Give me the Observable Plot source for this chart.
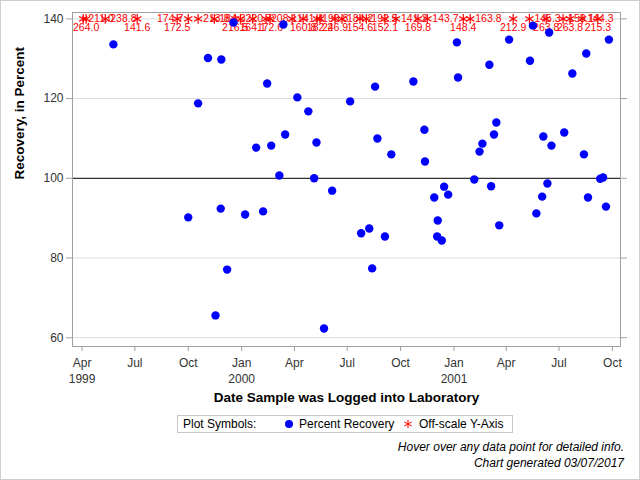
<!DOCTYPE html>
<html><head><meta charset="utf-8">
<script src="https://cdn.jsdelivr.net/npm/d3@7"></script>
<script src="https://cdn.jsdelivr.net/npm/@observablehq/plot@0.6"></script>
<style>
body{margin:0;background:#fff;font-family:"Liberation Sans",Arial,sans-serif;}
#wrap{position:relative;width:640px;height:480px;background:#fff;overflow:hidden}
#chart{position:absolute;left:0;top:0}
#border{position:absolute;left:0;top:0;width:640px;height:480px;box-sizing:border-box;border:1px solid #cfcfcf;pointer-events:none}
#legend{position:absolute;left:177px;top:415px;width:334px;height:16px;border:1px solid #c8c8c8;font-size:12px;color:#000;white-space:nowrap}
#legend span{position:absolute;top:1px}
#legend svg{position:absolute;top:0}
.note{position:absolute;right:16px;font-size:12px;font-style:italic;color:#000;white-space:nowrap}
</style></head><body>
<div id="wrap">
<div id="chart"></div>
<div id="legend"></div>
<div class="note" id="note1" style="top:440px"></div>
<div class="note" id="note2" style="top:456px"></div>
<div id="border"></div>
</div>
<script>
// ---- data ----
const pointDates = ["1999-05-25","1999-10-01","1999-10-18","1999-11-04","1999-11-17","1999-11-27","1999-11-26","1999-12-07","1999-12-18",
"2000-01-07","2000-01-26","2000-02-07","2000-02-14","2000-02-21","2000-03-06","2000-03-13","2000-03-16","2000-04-06","2000-04-25",
"2000-05-05","2000-05-09","2000-05-22","2000-06-05","2000-07-06","2000-07-25","2000-08-08","2000-08-13","2000-08-18","2000-08-22",
"2000-09-04","2000-09-15","2000-10-23","2000-11-11","2000-11-12","2000-11-28","2000-12-03","2000-12-04","2000-12-11","2000-12-15",
"2000-12-22","2001-01-06","2001-01-08","2001-02-05","2001-02-14","2001-02-19","2001-03-03","2001-03-06","2001-03-11","2001-03-15",
"2001-03-20","2001-04-06","2001-05-12","2001-05-17","2001-05-23","2001-06-02","2001-06-04","2001-06-11","2001-06-14","2001-06-18",
"2001-07-10","2001-07-24","2001-08-13","2001-08-17","2001-08-20","2001-09-10","2001-09-15","2001-09-20","2001-09-25"];
const pointValues = [133.6,90.2,118.8,130.2,65.6,129.8,92.4,77.1,139.1,
90.9,107.7,91.7,123.8,108.2,100.7,138.6,111.0,120.3,116.8,
100.0,109.0,62.3,96.9,119.3,86.2,87.4,77.4,123.0,110.0,
85.4,106.0,124.3,112.2,104.2,95.2,85.4,89.4,84.4,97.9,
95.9,134.1,125.3,99.7,106.7,108.7,128.5,98.0,111.0,114.0,
88.2,134.8,129.5,138.3,91.2,95.4,110.5,98.7,136.6,108.2,
111.5,126.3,106.0,131.3,95.2,99.9,100.2,92.9,134.8];

const offDates = ["1999-04-03","1999-04-08","1999-05-11","1999-07-05","1999-09-12","1999-10-01","1999-10-18","1999-11-15",
"1999-12-21","1999-12-30","2000-01-20","2000-02-12","2000-02-19","2000-03-28","2000-04-16","2000-05-10","2000-05-15",
"2000-06-10","2000-06-22","2000-07-23","2000-08-03","2000-09-04","2000-09-23","2000-10-31","2000-11-16","2001-01-17",
"2001-01-29","2001-04-13","2001-05-11","2001-06-09","2001-07-08","2001-07-20","2001-08-10","2001-09-06"];
const offValues = [211.0,264.0,238.8,141.6,172.5,174.7,213.8,184.3,
216.5,220.7,164.1,208.1,172.6,141.4,160.8,190.8,182.2,
246.9,184.2,154.6,192.5,152.1,141.2,169.8,143.7,148.4,
163.8,212.9,145.3,263.8,158.1,263.8,144.3,215.3];
const offLabelPos = ["R","B","R","B","B","L","R","R",
"B","R","B","R","B","R","B","R","B",
"B","R","B","R","B","R","B","R","B",
"R","B","R","B","R","B","R","B"];

const yTicks = [60, 80, 100, 120, 140];
const gridValues = [60, 80, 120, 140];
const refValue = 100;
const offscaleCap = 140;
const xTickDates = ["1999-04-01","1999-07-01","1999-10-01","2000-01-01","2000-04-01","2000-07-01","2000-10-01",
"2001-01-01","2001-04-01","2001-07-01","2001-10-01"];
const xTickLabels = ["Apr\n1999","Jul","Oct","Jan\n2000","Apr","Jul","Oct","Jan\n2001","Apr","Jul","Oct"];
const xTitle = "Date Sample was Logged into Laboratory";
const yTitle = "Recovery, in Percent";
const legendTitle = "Plot Symbols:";
const legendNames = ["Percent Recovery", "Off-scale Y-Axis"];
const notes = ["Hover over any data point for detailed info.", "Chart generated 03/07/2017"];

// ---- build ----
const font = '"Liberation Sans", Arial, sans-serif';
const points = pointDates.map((d, i) => ({date: new Date(d), value: pointValues[i]}));
const offs = offDates.map((d, i) => ({date: new Date(d), value: offValues[i], pos: offLabelPos[i], y: offscaleCap}));
const tickMap = new Map(xTickDates.map((d, i) => [+new Date(d), xTickLabels[i]]));
const fmt = d => d.value.toFixed(1);
const red = "#ff0000";

const chart = Plot.plot({
  width: 640, height: 404,
  marginLeft: 72, marginRight: 20, marginTop: 12, marginBottom: 58,
  style: {fontFamily: font, fontSize: "12px", background: "transparent", overflow: "visible"},
  x: {type: "utc", domain: [new Date("1999-03-15T12:00Z"), new Date("2001-10-15")]},
  y: {domain: [57.8, 141.6]},
  marks: [
    Plot.ruleY(gridValues, {stroke: "#dcdcdc"}),
    Plot.ruleY([refValue], {stroke: "#000"}),
    Plot.frame({stroke: "#a0a0a0"}),
    Plot.axisY({ticks: yTicks, tickSize: 6, tickPadding: 3, label: null, stroke: "#a0a0a0", color: "#333", fill: "#333"}),
    Plot.axisY({anchor: "right", ticks: yTicks, tickSize: 6, tickFormat: () => "", label: null, stroke: "#a0a0a0"}),
    Plot.axisX({ticks: xTickDates.map(d => new Date(d)), tickFormat: d => tickMap.get(+d), tickSize: 5, tickPadding: 4,
      lineHeight: 1.35, label: null, stroke: "#a0a0a0", color: "#333", fill: "#333"}),
    Plot.text([xTitle], {frameAnchor: "bottom", dy: 55, fontWeight: "bold", fontSize: 13.5, fill: "#000"}),
    Plot.text([yTitle], {frameAnchor: "left", dx: -53, rotate: -90, fontWeight: "bold", fontSize: 13.5, fill: "#000"}),
    Plot.dot(offs, {x: "date", y: "y", symbol: "asterisk", r: 4.5, stroke: red, strokeWidth: 1.2}),
    Plot.text(offs.filter(d => d.pos === "R"), {x: "date", y: "y", text: fmt, textAnchor: "start", dx: 5, fill: red, fontSize: 10.5}),
    Plot.text(offs.filter(d => d.pos === "L"), {x: "date", y: "y", text: fmt, textAnchor: "end", dx: -5, fill: red, fontSize: 10.5}),
    Plot.text(offs.filter(d => d.pos === "B"), {x: "date", y: "y", text: fmt, textAnchor: "middle", dy: 9, fill: red, fontSize: 10.5}),
    Plot.dot(points, {x: "date", y: "value", r: 4.2, fill: "#0000ff", stroke: "none"})
  ]
});
document.getElementById("chart").appendChild(chart);

// legend
const lg = document.getElementById("legend");
lg.innerHTML =
  `<span style="left:5px">${legendTitle}</span>` +
  `<svg width="12" height="16" style="left:105px"><circle cx="6" cy="8" r="4" fill="#0000ff"/></svg>` +
  `<span style="left:121px">${legendNames[0]}</span>` +
  `<svg width="12" height="16" style="left:224px"><path d="${d3.symbol(d3.symbolAsterisk, 50)()}" transform="translate(6,8)" stroke="${red}" fill="none"/></svg>` +
  `<span style="left:241px">${legendNames[1]}</span>`;
document.getElementById("note1").textContent = notes[0];
document.getElementById("note2").textContent = notes[1];
</script>
</body></html>
